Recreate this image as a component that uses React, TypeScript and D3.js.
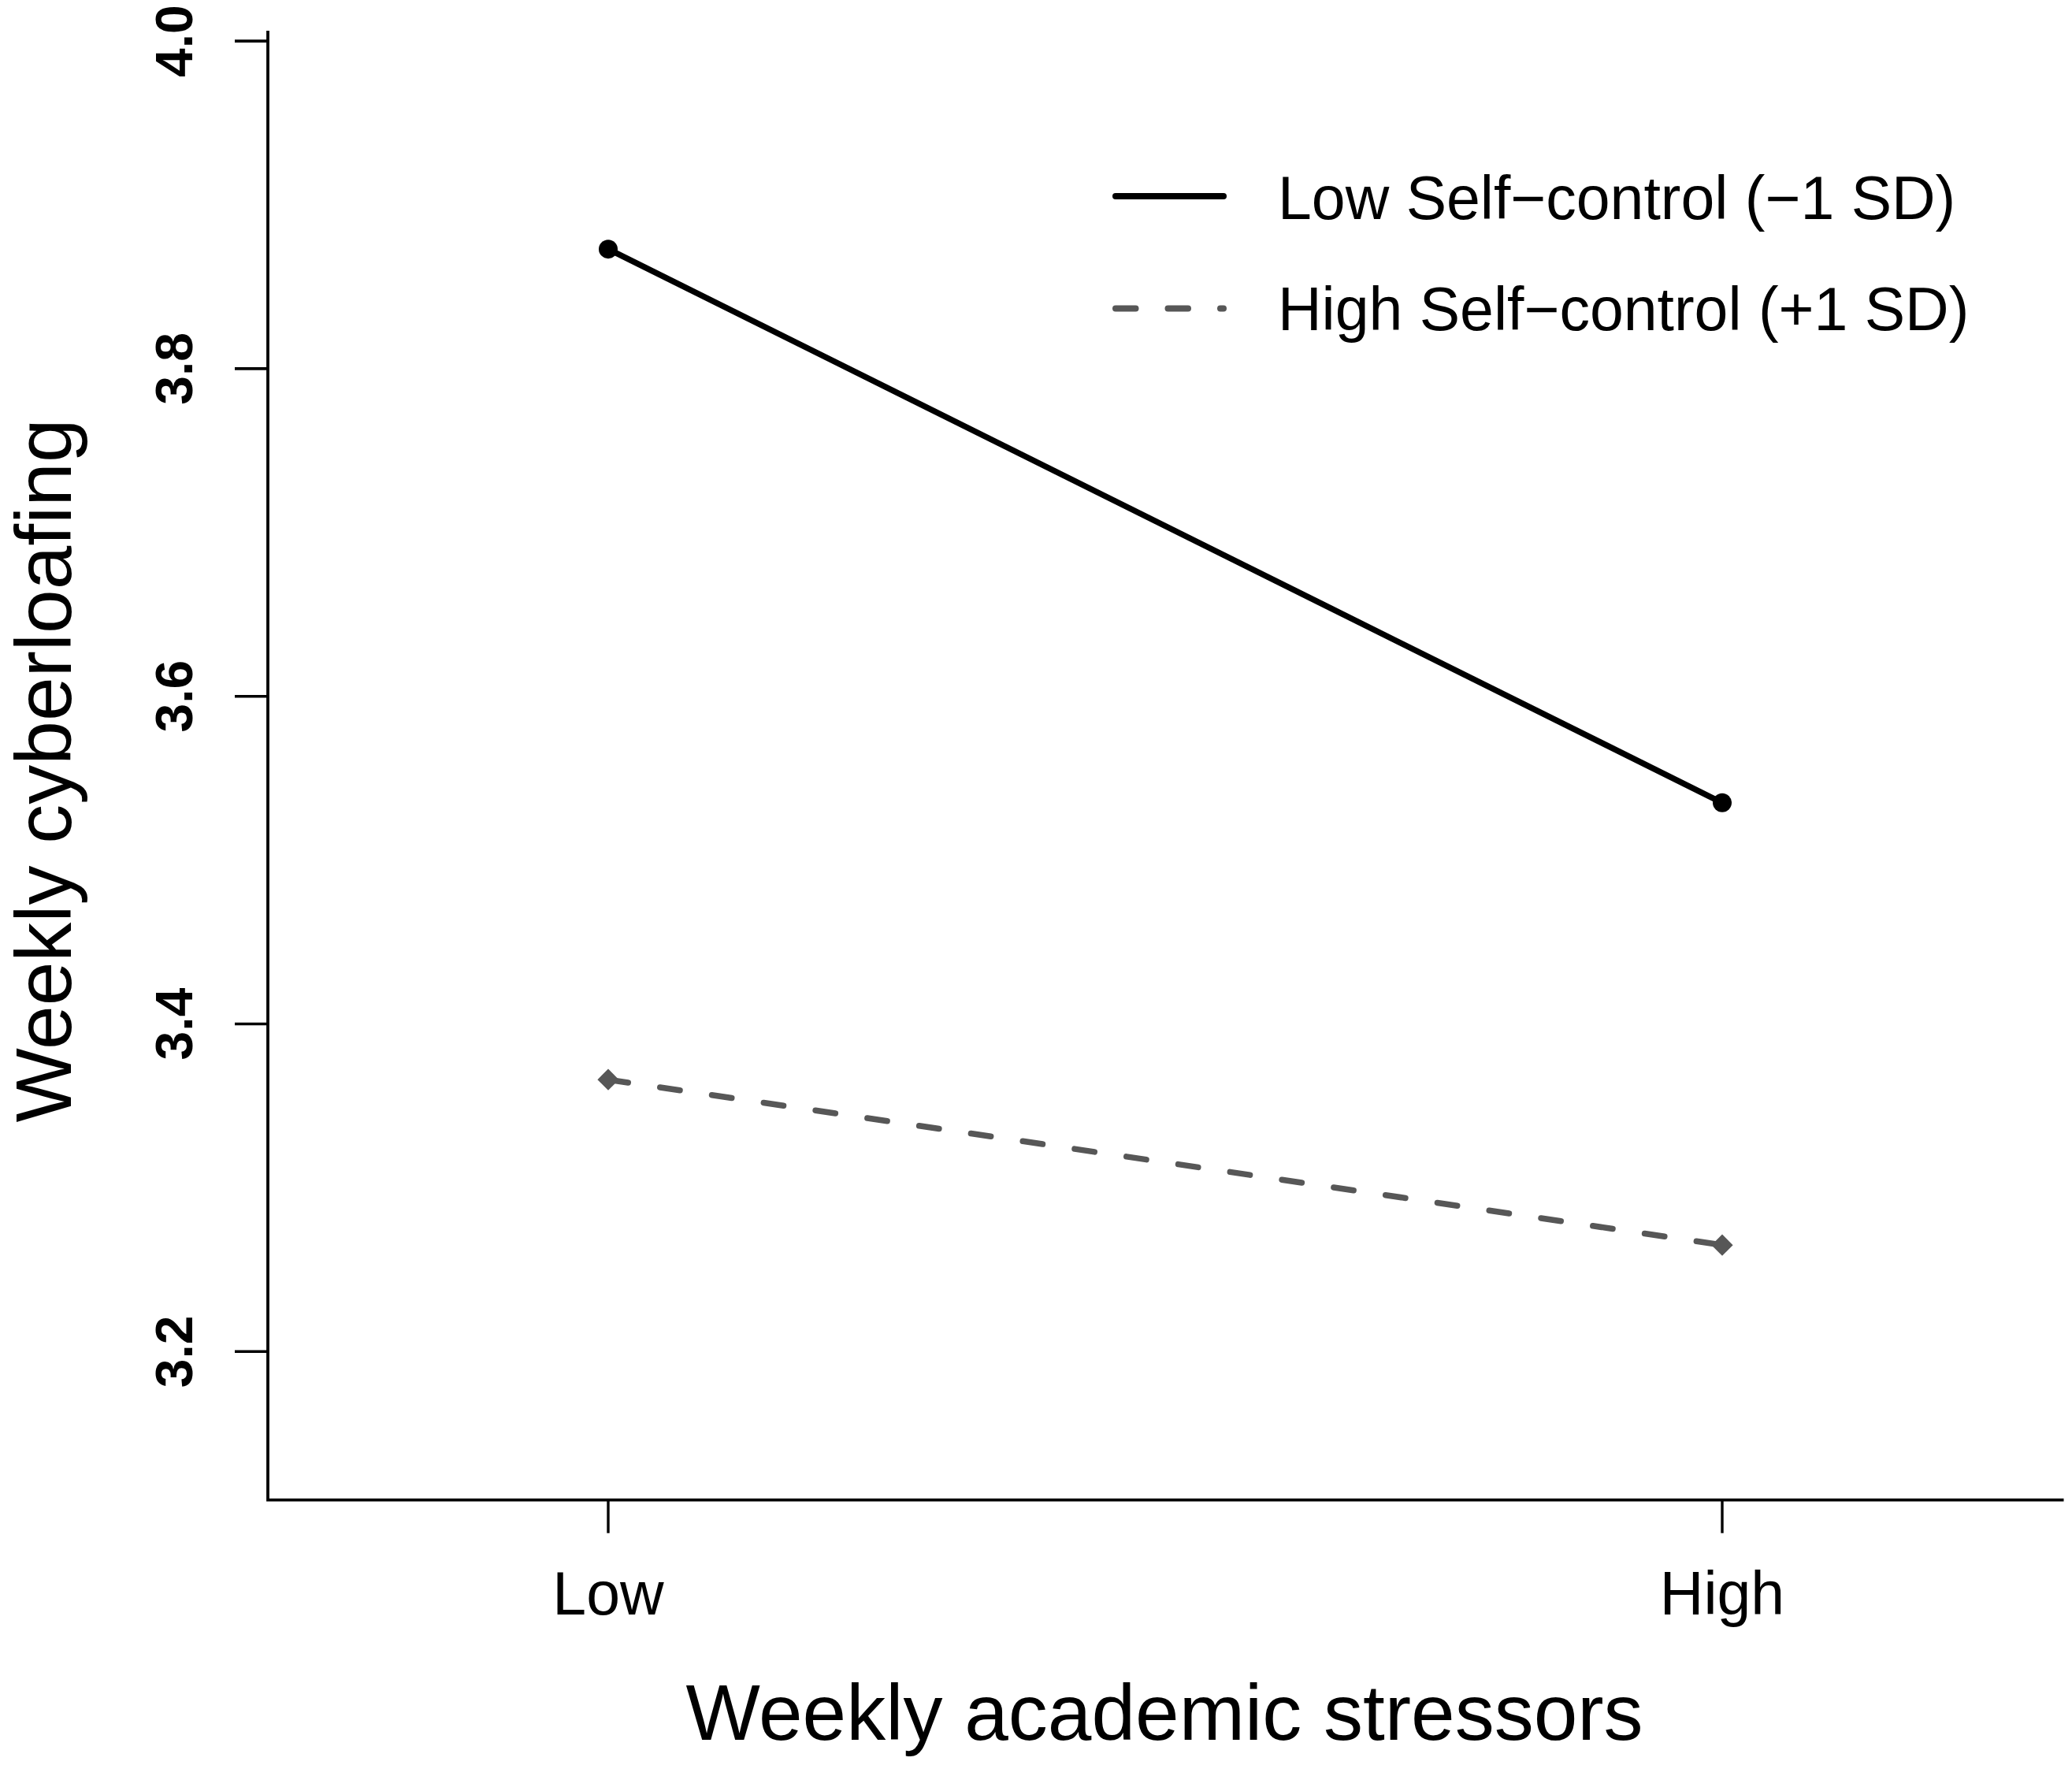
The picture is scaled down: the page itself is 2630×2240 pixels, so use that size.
import React from "react";
import { scaleLinear, scalePoint, line as d3_line, symbol, symbolSquare } from "d3";

const categories = ["Low", "High"];
const lowSelfControl = [3.873, 3.535];
const highSelfControl = [3.366, 3.265];
const yTicks = [3.2, 3.4, 3.6, 3.8, 4.0];
const seriesLabels = ["Low Self\u2212control (\u22121 SD)", "High Self\u2212control (+1 SD)"];
const xTitle = "Weekly academic stressors";
const yTitle = "Weekly cyberloafing";

const W = 2630;
const H = 2240;
const FONT = "'Liberation Sans', Arial, Helvetica, sans-serif";
const GRAY = "#575757";

// plot frame (R style "L" box)
const frame = { left: 340, right: 2619.5, top: 39, bottom: 1903.7 };

export default function App() {
    const x = scalePoint<string>().domain(categories).range([772, 2186]);
    const y = scaleLinear().domain([3.2, 4.0]).range([1715.3, 52.1]);

    const line = d3_line<number>()
        .x((_, i) => x(categories[i]) ?? 0)
        .y((d) => y(d));

    const diamond = symbol().type(symbolSquare).size(370)() ?? "";

    return (
        <svg
            width={W}
            height={H}
            viewBox={`0 0 ${W} ${H}`}
            style={{ position: "absolute", left: 0, top: 0, background: "#fff" }}
            fontFamily={FONT}
        >
            <rect width={W} height={H} fill="#fff" />

            {/* axes frame */}
            <path
                d={`M${frame.left},${frame.top}V${frame.bottom}H${frame.right}`}
                fill="none"
                stroke="#000"
                strokeWidth={3.8}
            />

            {/* Y axis ticks + labels */}
            {yTicks.map((t) => (
                <g key={t}>
                    <line x1={frame.left - 42} x2={frame.left} y1={y(t)} y2={y(t)} stroke="#000" strokeWidth={3.6} />
                    <text
                        transform={`translate(244,${y(t)}) rotate(-90)`}
                        textAnchor="middle"
                        fontSize={66}
                        fontWeight="bold"
                    >
                        {t.toFixed(1)}
                    </text>
                </g>
            ))}

            {/* X axis ticks + labels */}
            {categories.map((c) => (
                <g key={c}>
                    <line x1={x(c)} x2={x(c)} y1={frame.bottom} y2={frame.bottom + 42} stroke="#000" strokeWidth={3.4} />
                    <text x={x(c)} y={2049} textAnchor="middle" fontSize={77}>
                        {c}
                    </text>
                </g>
            ))}

            {/* axis titles */}
            <text x={1478} y={2208} textAnchor="middle" fontSize={100}>
                {xTitle}
            </text>
            <text transform="translate(90,978) rotate(-90)" textAnchor="middle" fontSize={100}>
                {yTitle}
            </text>

            {/* series */}
            <path d={line(lowSelfControl) ?? ""} fill="none" stroke="#000" strokeWidth={7.5} />
            <path
                d={line(highSelfControl) ?? ""}
                fill="none"
                stroke={GRAY}
                strokeWidth={7.5}
                strokeDasharray="25.5 41"
                strokeLinecap="round"
            />
            {lowSelfControl.map((v, i) => (
                <circle key={i} cx={x(categories[i])} cy={y(v)} r={12} fill="#000" />
            ))}
            {highSelfControl.map((v, i) => (
                <path
                    key={i}
                    d={diamond}
                    transform={`translate(${x(categories[i])},${y(v)}) rotate(45)`}
                    fill={GRAY}
                />
            ))}

            {/* legend */}
            <line x1={1416} x2={1553} y1={249} y2={249} stroke="#000" strokeWidth={8} strokeLinecap="round" />
            <line
                x1={1416}
                x2={1553}
                y1={391.5}
                y2={391.5}
                stroke={GRAY}
                strokeWidth={8}
                strokeLinecap="round"
                strokeDasharray="25.5 41"
            />
            <text x={1622} y={277.7} fontSize={77}>
                {seriesLabels[0]}
            </text>
            <text x={1622} y={419} fontSize={77}>
                {seriesLabels[1]}
            </text>
        </svg>
    );
}
